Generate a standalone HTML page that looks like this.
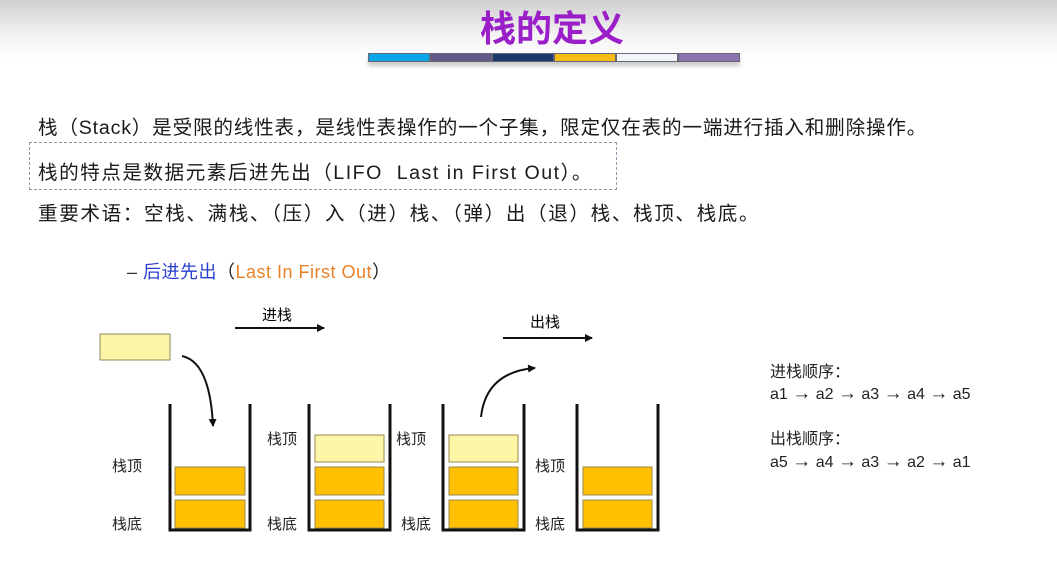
<!DOCTYPE html>
<html><head><meta charset="utf-8">
<style>
body{margin:0;width:1057px;height:567px;overflow:hidden;background:#fff;font-family:"Liberation Sans","Noto Sans CJK SC",sans-serif;position:relative}
.t{position:absolute;white-space:nowrap;color:#1a1a1a}
.ar{font-size:19px;font-weight:bold}
</style></head><body>
<div style="position:absolute;left:0;top:0;width:1057px;height:60px;background:linear-gradient(#cfcfcf,#f4f4f4 60%,#fff)"></div>
<div class="t" style="left:480px;top:0px;font-size:36px;font-weight:bold;color:#9b1fc9;letter-spacing:0px">栈的定义</div>
<div style="position:absolute;left:368px;top:53px;display:flex;box-shadow:0 4px 4px #ccc">
<div style="width:60px;height:7px;background:#0aa6e8;border:1px solid #667"></div>
<div style="width:60px;height:7px;background:#625a8a;border:1px solid #667"></div>
<div style="width:60px;height:7px;background:#1a3b6b;border:1px solid #667"></div>
<div style="width:60px;height:7px;background:#f5bd14;border:1px solid #667"></div>
<div style="width:60px;height:7px;background:#f3f6f8;border:1px solid #667"></div>
<div style="width:60px;height:7px;background:#8a74ae;border:1px solid #667"></div>
</div>
<div class="t" style="left:38px;top:111px;font-size:19.6px;letter-spacing:0.8px">栈（Stack）是受限的线性表，是线性表操作的一个子集，限定仅在表的一端进行插入和删除操作。</div>
<div style="position:absolute;left:29px;top:142px;width:586px;height:46px;border:1px dashed #8a97a8"></div>
<div class="t" style="left:38px;top:156px;font-size:19.6px;letter-spacing:1.5px">栈的特点是数据元素后进先出（LIFO&nbsp; Last in First Out）。</div>
<div class="t" style="left:38px;top:197px;font-size:19.6px;letter-spacing:1.6px">重要术语：空栈、满栈、（压）入（进）栈、（弹）出（退）栈、栈顶、栈底。</div>
<div class="t" style="left:127px;top:258px;font-size:18px;letter-spacing:0.5px"><span style="color:#333">– </span><span style="color:#2a3fd0">后进先出</span>（<span style="color:#e8822a">Last In First Out</span>）</div>
<svg width="1057" height="567" style="position:absolute;left:0;top:0" font-family="Liberation Sans, Noto Sans CJK SC, sans-serif" font-size="15">
<defs><marker id="ar" markerUnits="userSpaceOnUse" markerWidth="8" markerHeight="8" refX="7" refY="4" orient="auto"><path d="M0,0L8,4L0,8z" fill="#111"/></marker></defs>
<rect x="100" y="334" width="70" height="26" fill="#fdf6a6" stroke="#8a8a60"/>
<path d="M182,356 Q210,362 213,426" fill="none" stroke="#111" stroke-width="2" marker-end="url(#ar)"/>
<path d="M481,417 Q486,372 535,368" fill="none" stroke="#111" stroke-width="2" marker-end="url(#ar)"/>
<line x1="235" y1="328" x2="324" y2="328" stroke="#111" stroke-width="2" marker-end="url(#ar)"/>
<text x="262" y="320">进栈</text>
<line x1="503" y1="338" x2="592" y2="338" stroke="#111" stroke-width="2" marker-end="url(#ar)"/>
<text x="530" y="327">出栈</text>
<g fill="none" stroke="#111" stroke-width="3">
<path d="M170,404V530H250V404"/>
<path d="M309,404V530H390V404"/>
<path d="M443,404V530H524V404"/>
<path d="M577,404V530H658V404"/>
</g>
<g stroke="#9a8a50">
<rect x="175" y="467" width="70" height="28" fill="#fec000"/><rect x="175" y="500" width="70" height="28" fill="#fec000"/>
<rect x="315" y="435" width="69" height="27" fill="#fdf6a6"/><rect x="315" y="467" width="69" height="28" fill="#fec000"/><rect x="315" y="500" width="69" height="28" fill="#fec000"/>
<rect x="449" y="435" width="69" height="27" fill="#fdf6a6"/><rect x="449" y="467" width="69" height="28" fill="#fec000"/><rect x="449" y="500" width="69" height="28" fill="#fec000"/>
<rect x="583" y="467" width="69" height="28" fill="#fec000"/><rect x="583" y="500" width="69" height="28" fill="#fec000"/>
</g>
<g fill="#222">
<text x="112" y="471">栈顶</text><text x="112" y="529">栈底</text>
<text x="267" y="444">栈顶</text><text x="267" y="529">栈底</text>
<text x="396" y="444">栈顶</text><text x="401" y="529">栈底</text>
<text x="535" y="471">栈顶</text><text x="535" y="529">栈底</text>
<text x="770" y="377" font-size="16">进栈顺序：</text>
<text x="770" y="399" font-size="16">a1 <tspan class="ar">→</tspan> a2 <tspan class="ar">→</tspan> a3 <tspan class="ar">→</tspan> a4 <tspan class="ar">→</tspan> a5</text>
<text x="770" y="444" font-size="16">出栈顺序：</text>
<text x="770" y="467" font-size="16">a5 <tspan class="ar">→</tspan> a4 <tspan class="ar">→</tspan> a3 <tspan class="ar">→</tspan> a2 <tspan class="ar">→</tspan> a1</text>
</g>
</svg>
</body></html>
